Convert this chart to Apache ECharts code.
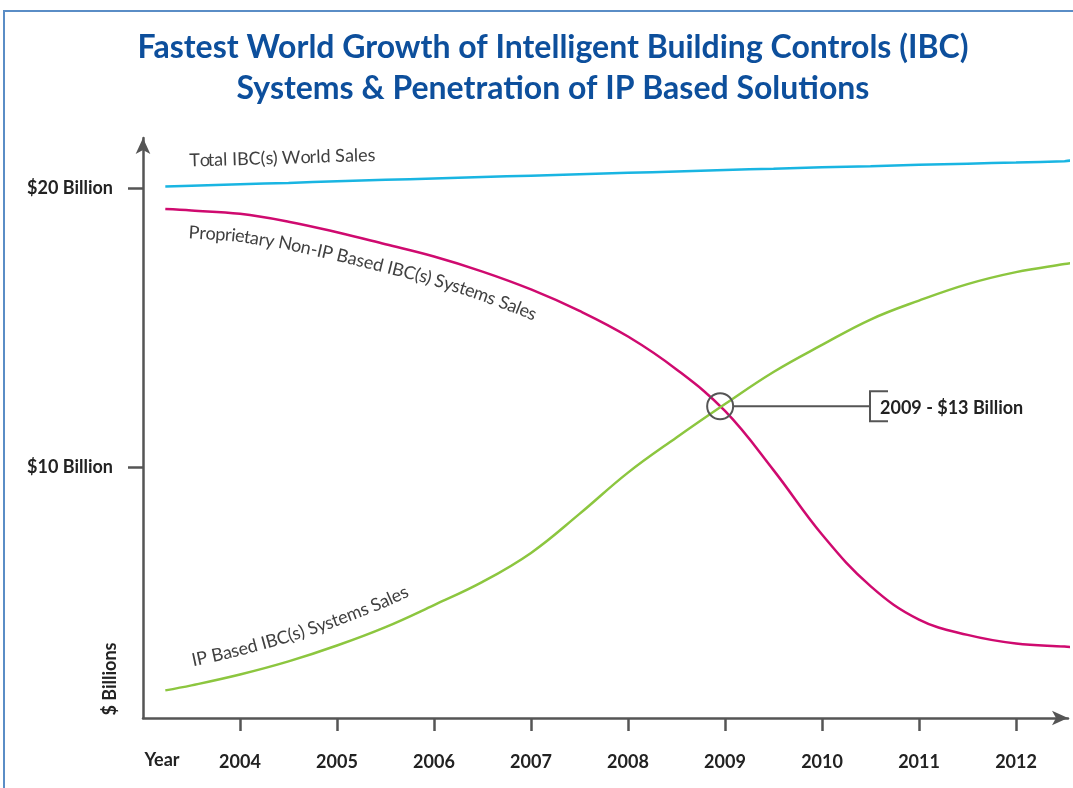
<!DOCTYPE html>
<html><head><meta charset="utf-8">
<script src="https://cdn.jsdelivr.net/npm/echarts@6/dist/echarts.min.js"></script>
<style>html,body{margin:0;padding:0;background:#fff}#c{width:1073px;height:788px}</style>
</head><body><div id="c"></div><script>
// ---------- data ----------
const titleLines = ['Fastest World Growth of Intelligent Building Controls (IBC)', 'Systems & Penetration of IP Based Solutions'];
const xTickYears = [2004, 2005, 2006, 2007, 2008, 2009, 2010, 2011, 2012];
const yTickValues = [10, 20];
const yTickLabels = ['$10 Billion', '$20 Billion'];
const xAxisTitle = 'Year';
const yAxisTitle = '$ Billions';
const seriesNames = ['Total IBC(s) World Sales', 'Proprietary Non-IP Based IBC(s) Systems Sales', 'IP Based IBC(s) Systems Sales'];
const sampleYears = [2003.23, 2003.5, 2004, 2004.5, 2005, 2005.5, 2006, 2006.5, 2007, 2007.5,
  2008, 2008.5, 2009, 2009.5, 2010, 2010.5, 2011, 2011.5, 2012, 2012.5, 2012.56];
const totalValues = [20.06, 20.09, 20.14, 20.19, 20.25, 20.30, 20.35, 20.40, 20.45, 20.50,
  20.55, 20.60, 20.65, 20.70, 20.75, 20.79, 20.84, 20.88, 20.92, 20.97, 20.99];
const proprietaryValues = [19.25, 19.20, 19.08, 18.80, 18.42, 17.99, 17.55, 17.01, 16.37, 15.60,
  14.68, 13.50, 12.01, 9.89, 7.58, 5.73, 4.53, 3.98, 3.67, 3.56, 3.55];
const ipValues = [1.99, 2.17, 2.56, 3.03, 3.60, 4.26, 5.05, 5.88, 6.92, 8.32,
  9.80, 11.06, 12.26, 13.41, 14.38, 15.29, 15.97, 16.56, 16.99, 17.28, 17.31];
const crossPoint = [2008.95, 12.18];
const crossLabel = '2009 - $13 Billion';

const pairs = vals => sampleYears.map((y, i) => [y, vals[i]]);
const totalSales = pairs(totalValues);
const proprietarySales = pairs(proprietaryValues);
const ipSales = pairs(ipValues);

// ---------- styles ----------
const colors = ['#19b5e2', '#cf0a6f', '#8cc63f'];
const axisColor = '#555555';
const labelFont = 'Lato';

const chart = echarts.init(document.getElementById('c'), null, { renderer: 'canvas' });

const option = {
  animation: false,
  backgroundColor: '#ffffff',
  title: {
    text: titleLines.join('\n'),
    left: 548, top: 22, textAlign: 'center',
    textStyle: { fontFamily: labelFont, fontWeight: 'bold', fontSize: 32, lineHeight: 41, color: '#0d4f9c' }
  },
  grid: { left: 143, right: 5, top: 138, bottom: 70 },
  xAxis: {
    type: 'value', min: 2003, max: 2012.536,
    splitLine: { show: false },
    axisLine: { lineStyle: { color: axisColor, width: 2.5 }, symbol: ['none', 'arrow'], symbolSize: [11, 16] },
    axisTick: { show: true, length: 13, lineStyle: { color: axisColor, width: 2.5 }, customValues: xTickYears },
    axisLabel: { customValues: xTickYears, formatter: v => String(v), margin: 35,
      fontFamily: labelFont, fontWeight: 'bold', fontSize: 18, color: '#222' }
  },
  yAxis: {
    type: 'value', min: 1, max: 21.8,
    splitLine: { show: false },
    axisLine: { lineStyle: { color: axisColor, width: 2.5 }, symbol: ['none', 'arrow'], symbolSize: [11, 16] },
    axisTick: { show: true, length: 15, lineStyle: { color: axisColor, width: 2.5 }, customValues: yTickValues },
    axisLabel: { customValues: yTickValues, formatter: v => yTickLabels[yTickValues.indexOf(v)] || '', margin: 30,
      fontFamily: labelFont, fontWeight: 'bold', fontSize: 18, color: '#222' }
  },
  series: [
    { name: seriesNames[0], type: 'line', data: totalSales, smooth: 0.4, symbol: 'none', clip: false,
      lineStyle: { color: colors[0], width: 2.5 } },
    { name: seriesNames[1], type: 'line', data: proprietarySales, smooth: 0.4, symbol: 'none', clip: false,
      lineStyle: { color: colors[1], width: 2.5 } },
    { name: seriesNames[2], type: 'line', data: ipSales, smooth: 0.4, symbol: 'none', clip: false,
      lineStyle: { color: colors[2], width: 2.5 } }
  ]
};
chart.setOption(option);

// ---------- helpers for text along a curve ----------
const mctx = document.createElement('canvas').getContext('2d');
function measure(font, s) { mctx.font = font; return mctx.measureText(s).width; }
function textOnPath(text, data, startX, offset, font, color) {
  const pts = data.map(d => chart.convertToPixel({ gridIndex: 0 }, d));
  const cum = [0];
  for (let i = 1; i < pts.length; i++) cum.push(cum[i - 1] + Math.hypot(pts[i][0] - pts[i - 1][0], pts[i][1] - pts[i - 1][1]));
  function at(s) {
    let i = 0;
    while (i < pts.length - 2 && cum[i + 1] < s) i++;
    const L = cum[i + 1] - cum[i] || 1;
    const t = (s - cum[i]) / L;
    return [pts[i][0] + (pts[i + 1][0] - pts[i][0]) * t, pts[i][1] + (pts[i + 1][1] - pts[i][1]) * t];
  }
  let s0 = 0;
  for (let i = 0; i < pts.length - 1; i++) {
    if (pts[i][0] <= startX && startX <= pts[i + 1][0]) {
      s0 = cum[i] + (startX - pts[i][0]) / (pts[i + 1][0] - pts[i][0]) * (cum[i + 1] - cum[i]);
      break;
    }
  }
  const els = [];
  for (let i = 0; i < text.length; i++) {
    const ch = text[i];
    if (ch === ' ') continue;
    const s = s0 + measure(font, text.slice(0, i)) + measure(font, ch) / 2;
    const p = at(s), a = at(s - 18), b = at(s + 18);
    const th = Math.atan2(b[1] - a[1], b[0] - a[0]);
    const nx = -Math.sin(th), ny = Math.cos(th);
    els.push({
      type: 'text', x: p[0] + nx * offset, y: p[1] + ny * offset, rotation: -th, silent: true, z: 10,
      style: { text: ch, font: font, fill: color, align: 'center', verticalAlign: 'middle', textAlign: 'center', textVerticalAlign: 'middle' }
    });
  }
  return els;
}

const curveFont = '18px Lato';
const curveColor = '#404040';
const cp = chart.convertToPixel({ gridIndex: 0 }, crossPoint);
const graphics = [
  { type: 'polyline', silent: true, shape: { points: [[4, 788], [4, 11], [1073, 11]] }, style: { stroke: '#5a8dc6', lineWidth: 2, fill: null } },
  { type: 'text', x: 162, y: 760, silent: true,
    style: { text: xAxisTitle, font: 'bold 18px Lato', fill: '#222', align: 'center', verticalAlign: 'middle', textAlign: 'center', textVerticalAlign: 'middle' } },
  { type: 'text', x: 110, y: 679, rotation: Math.PI / 2, silent: true,
    style: { text: yAxisTitle, font: 'bold 18px Lato', fill: '#222', align: 'center', verticalAlign: 'middle', textAlign: 'center', textVerticalAlign: 'middle' } },
  { type: 'circle', silent: true, shape: { cx: cp[0], cy: cp[1], r: 13 }, style: { stroke: '#555', lineWidth: 2, fill: null }, z: 20 },
  { type: 'line', silent: true, shape: { x1: cp[0] + 13, y1: cp[1], x2: 870, y2: cp[1] }, style: { stroke: '#555', lineWidth: 2 }, z: 20 },
  { type: 'polyline', silent: true, shape: { points: [[888, cp[1] - 15], [870, cp[1] - 15], [870, cp[1] + 15], [888, cp[1] + 15]] }, style: { stroke: '#555', lineWidth: 2, fill: null }, z: 20 },
  { type: 'text', x: 880, y: cp[1] + 2, silent: true,
    style: { text: crossLabel, font: 'bold 18px Lato', fill: '#222', align: 'left', verticalAlign: 'middle', textAlign: 'left', textVerticalAlign: 'middle' } }
]
  .concat(textOnPath(seriesNames[0], totalSales, 190, -25, curveFont, curveColor))
  .concat(textOnPath(seriesNames[1], proprietarySales, 190, 22, curveFont, curveColor))
  .concat(textOnPath(seriesNames[2], ipSales, 197, -24, curveFont, curveColor));

chart.setOption({ graphic: { elements: graphics } });
</script></body></html>
